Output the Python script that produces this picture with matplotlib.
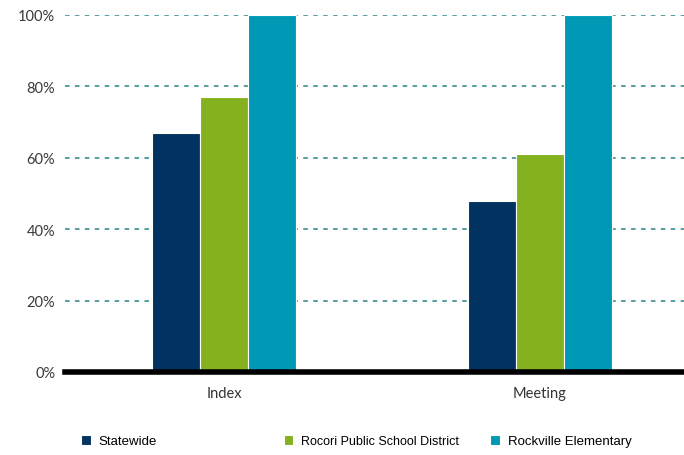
import matplotlib
matplotlib.use("Agg")
import matplotlib.pyplot as plt
import numpy as np

categories = ["Index", "Meeting"]
series_names = ["Statewide", "Rocori Public School District", "Rockville Elementary"]
statewide = [67, 48]
rocori = [77, 61]
rockville = [100, 100]
yticks = [0, 20, 40, 60, 80, 100]
ytick_labels = ["0%", "20%", "40%", "60%", "80%", "100%"]

colors = ["#00335f", "#84b21f", "#0099b5"]

fig = plt.figure(figsize=(6.84, 4.56), dpi=100)
# axes runs a bit past the right edge, like the original
ax = fig.add_axes([65 / 684, 1 - 373 / 456, (698 - 65) / 684, (373 - 16) / 456])

x = np.arange(len(categories))
w = 0.152
bars = []
for i, (vals, name) in enumerate(zip([statewide, rocori, rockville], series_names)):
    b = ax.bar(x + (i - 1) * w, vals, w, color=colors[i], edgecolor="white",
               linewidth=0.8, label=name, zorder=3)
    bars.append(b)

ax.set_xlim(-0.503, 1.5)
ax.set_ylim(0, 100)
ax.set_yticks(yticks)
ax.set_yticklabels(ytick_labels, fontsize=10.5, color="#3a3a3a", family="Lato")
ax.set_xticks(x)
ax.set_xticklabels(categories, fontsize=10.5, color="#333333", family="Lato")
ax.tick_params(length=0, axis="y", pad=7)
ax.tick_params(length=0, axis="x", pad=10)

for s in ax.spines.values():
    s.set_visible(False)

for t in yticks[1:]:
    ax.axhline(t, color="#4a9696", linestyle=(0, (2.5, 3)), linewidth=1.3, zorder=1)
ax.axhline(0, color="black", linewidth=4, zorder=4, clip_on=False)

# legend entries are spaced unevenly in the original, so one legend per entry
leg_x = [81, 284, 490]
leg_sizes = [9.5, 9.0, 9.5]
for b, name, lx, fs in zip(bars, series_names, leg_x, leg_sizes):
    fig.legend(handles=[b], labels=[name], loc="center left",
               bbox_to_anchor=(lx / 684, 1 - 442 / 456), frameon=False,
               prop={"family": "Liberation Sans", "size": fs},
               handlelength=0.75, handleheight=0.85, handletextpad=0.6,
               borderpad=0, borderaxespad=0)

fig.savefig("out.png", dpi=100)
